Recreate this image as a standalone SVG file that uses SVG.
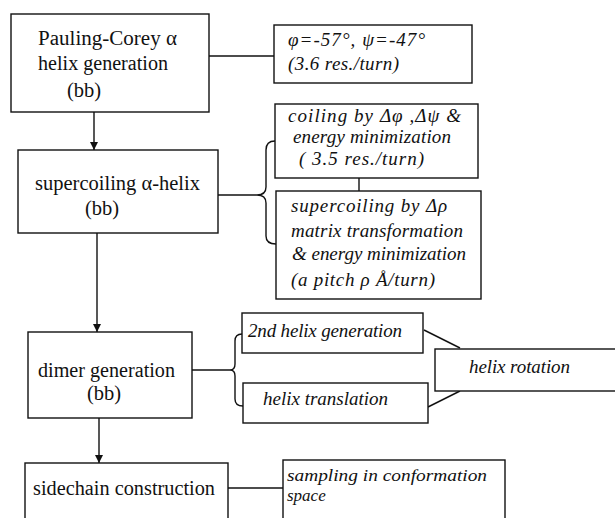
<svg xmlns="http://www.w3.org/2000/svg" width="615" height="518" viewBox="0 0 615 518">
<style>
.box{fill:#fff;stroke:#111;stroke-width:1.4}
.main{font-family:"Liberation Serif","Times New Roman",serif;font-size:20.5px;fill:#111}
.it{font-family:"Liberation Serif","Times New Roman",serif;font-size:19px;font-style:italic;fill:#111}
.sm{font-size:17px}
.ln{fill:none;stroke:#111;stroke-width:1.4}
</style>
<defs>
<marker id="ah" viewBox="0 0 8 12" refX="8" refY="6" markerWidth="8" markerHeight="12" markerUnits="userSpaceOnUse" orient="auto">
<path d="M0,2 L8,6 L0,10 z" fill="#111"/>
</marker>
</defs>
<rect width="615" height="518" fill="#fff"/>
<g id="connectors">
<line class="ln" x1="94" y1="112" x2="94" y2="150" marker-end="url(#ah)"/>
<line class="ln" x1="97" y1="233" x2="97" y2="332" marker-end="url(#ah)"/>
<line class="ln" x1="99" y1="418" x2="99" y2="463" marker-end="url(#ah)"/>
<line class="ln" x1="209" y1="56" x2="274" y2="56"/>
<line class="ln" x1="218" y1="195" x2="257" y2="195"/>
<path class="ln" d="M275,141 Q266,141 266,150 L266,187 Q266,195 257,195 Q266,195 266,203 L266,236 Q266,244 276,244"/>
<line class="ln" x1="359" y1="178" x2="359" y2="191"/>
<line class="ln" x1="192" y1="370" x2="230" y2="370"/>
<path class="ln" d="M242,334 Q235,334 235,341 L235,364 Q235,370 230,370 Q235,370 235,376 L235,399 Q235,406 243,406"/>
<line class="ln" x1="424" y1="330" x2="460" y2="348"/>
<line class="ln" x1="428" y1="407" x2="460" y2="391"/>
<line class="ln" x1="228" y1="488" x2="283" y2="488"/>
</g>
<g id="n1">
<rect class="box" x="11" y="14" width="198" height="98"/>
<text class="main" x="38" y="45" textLength="139" lengthAdjust="spacingAndGlyphs">Pauling-Corey α</text>
<text class="main" x="38" y="70" textLength="130" lengthAdjust="spacingAndGlyphs">helix generation</text>
<text class="main" x="67" y="97">(bb)</text>
</g>
<g id="n1r">
<rect class="box" x="274" y="25" width="198" height="58"/>
<text class="it" x="288" y="46" textLength="137" lengthAdjust="spacing">φ=-57°,  ψ=-47°</text>
<text class="it" x="288" y="70" textLength="111" lengthAdjust="spacing">(3.6 res./turn)</text>
</g>
<g id="n2">
<rect class="box" x="18" y="150" width="200" height="83"/>
<text class="main" x="35" y="190" textLength="165" lengthAdjust="spacingAndGlyphs">supercoiling α-helix</text>
<text class="main" x="85" y="215">(bb)</text>
</g>
<g id="n2a">
<rect class="box" x="275" y="104" width="203" height="74"/>
<text class="it" x="288" y="122" textLength="173" lengthAdjust="spacing">coiling  by  Δφ ,Δψ  &amp;</text>
<text class="it" x="293" y="143" textLength="158" lengthAdjust="spacing">energy minimization</text>
<text class="it" x="299" y="165" textLength="125" lengthAdjust="spacing">( 3.5 res./turn)</text>
</g>
<g id="n2b">
<rect class="box" x="276" y="191" width="205" height="108"/>
<text class="it" x="291" y="212" textLength="156" lengthAdjust="spacing">supercoiling  by  Δρ</text>
<text class="it" x="291" y="237" textLength="172" lengthAdjust="spacing">matrix  transformation</text>
<text class="it" x="292" y="260" textLength="174" lengthAdjust="spacing">&amp; energy minimization</text>
<text class="it" x="291" y="286" textLength="144" lengthAdjust="spacing">(a pitch ρ Å/turn)</text>
</g>
<g id="n3">
<rect class="box" x="28" y="332" width="164" height="86"/>
<text class="main" x="38" y="377" textLength="137" lengthAdjust="spacingAndGlyphs">dimer generation</text>
<text class="main" x="87" y="400">(bb)</text>
</g>
<g id="n3a">
<rect class="box" x="242" y="313" width="181" height="40"/>
<text class="it" x="248" y="337" textLength="154" lengthAdjust="spacing">2nd helix generation</text>
</g>
<g id="n3b">
<rect class="box" x="243" y="383" width="185" height="40"/>
<text class="it" x="263" y="405" textLength="125" lengthAdjust="spacing">helix  translation</text>
</g>
<g id="n3c">
<rect class="box" x="435" y="349" width="190" height="42"/>
<text class="it" x="469" y="373" textLength="101" lengthAdjust="spacing">helix rotation</text>
</g>
<g id="n4">
<rect class="box" x="25" y="463" width="203" height="70"/>
<text class="main" x="33" y="495" textLength="182" lengthAdjust="spacingAndGlyphs">sidechain construction</text>
</g>
<g id="n4a">
<rect class="box" x="283" y="460" width="222" height="70"/>
<text class="it sm" x="287" y="481" textLength="200" lengthAdjust="spacingAndGlyphs">sampling in conformation</text>
<text class="it sm" x="287" y="501">space</text>
</g>
</svg>
